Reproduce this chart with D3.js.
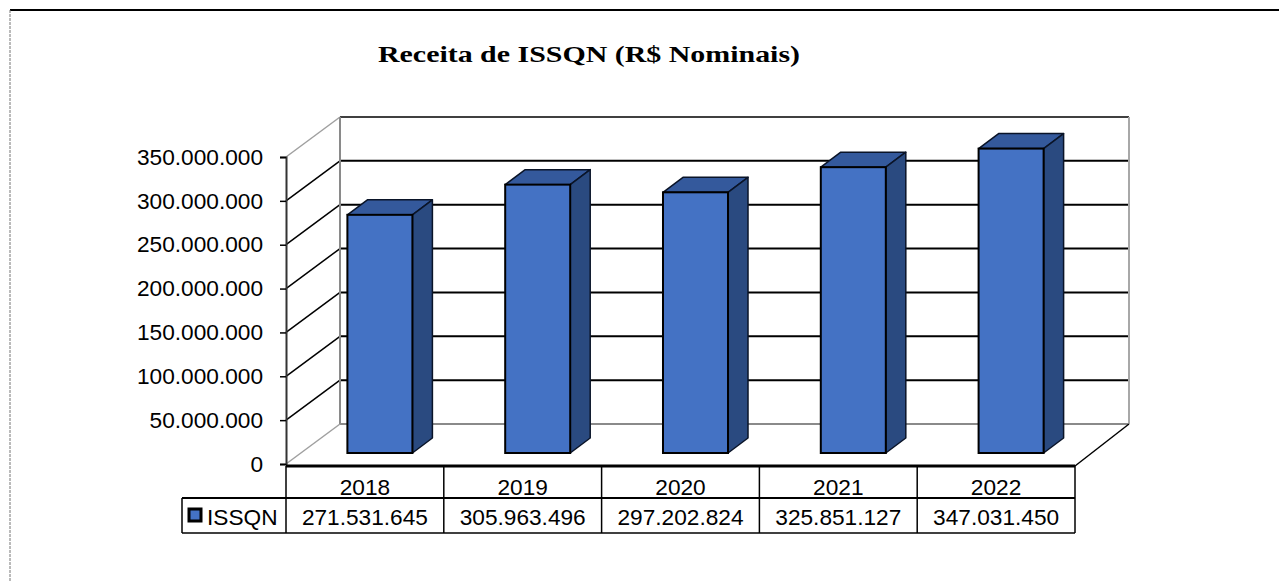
<!DOCTYPE html>
<html>
<head>
<meta charset="utf-8">
<script src="https://cdn.jsdelivr.net/npm/d3@7"></script>
<style>
  body { margin: 0; background: #fff; }
  svg { display: block; }
</style>
</head>
<body>
<div id="chart-area"></div>
<script>
const years = ["2018", "2019", "2020", "2021", "2022"];
const issqn = [271531645, 305963496, 297202824, 325851127, 347031450];
const yTicks = [0, 50000000, 100000000, 150000000, 200000000, 250000000, 300000000, 350000000];
const seriesName = "ISSQN";

const W = 1279, H = 581;
const STRETCH = 1.03;               // text in the source is a touch wider
const DX = 54, DY = -40;            // depth of the 3D box
const BAR_OFF = [15, -11], BAR_DEPTH = [20, -15];

const fmt = v => d3.format(",")(v).replace(/,/g, ".");

const svg = d3.select("#chart-area").append("svg")
  .attr("width", W)
  .attr("height", H);

// frame lines of the page
svg.append("line").attr("x1", 10).attr("x2", W).attr("y1", 10).attr("y2", 10)
  .attr("stroke", "#000").attr("stroke-width", 2);
svg.append("line").attr("x1", 10).attr("x2", 10).attr("y1", 10).attr("y2", H)
  .attr("stroke", "#777").attr("stroke-dasharray", "3,1");

// title
svg.append("text")
  .attr("x", 589).attr("y", 62)
  .attr("text-anchor", "middle")
  .attr("font-family", "'Liberation Serif', serif")
  .attr("font-weight", "bold")
  .attr("font-size", "24px")
  .attr("textLength", 422)
  .attr("lengthAdjust", "spacingAndGlyphs")
  .text("Receita de ISSQN (R$ Nominais)");

const x = d3.scaleBand()
  .domain(years)
  .range([286, 1075])
  .paddingInner(0.588)
  .paddingOuter(0.294);

const y = d3.scaleLinear()
  .domain([0, 350000000])
  .range([464, 157]);

const x0 = 286, x1 = 1075;

// back wall + side wall grid
const grid = svg.append("g");
yTicks.forEach(t => {
  const yy = y(t);
  const edge = (t === 0 || t === 350000000);
  grid.append("line")
    .attr("x1", x0 + DX).attr("x2", x1 + DX)
    .attr("y1", yy + DY).attr("y2", yy + DY)
    .attr("stroke", t === 0 ? "#8a8a8a" : (edge ? "#404040" : "#000"))
    .attr("stroke-width", 2);
  grid.append("line")
    .attr("x1", x0).attr("x2", x0 + DX)
    .attr("y1", yy).attr("y2", yy + DY)
    .attr("stroke", edge ? "#a0a0a0" : "#000")
    .attr("stroke-width", 1.5);
});
grid.append("line")
  .attr("x1", x0 + DX).attr("x2", x0 + DX)
  .attr("y1", y(350000000) + DY).attr("y2", y(0) + DY)
  .attr("stroke", "#8a8a8a").attr("stroke-width", 2);
grid.append("line")
  .attr("x1", x1 + DX).attr("x2", x1 + DX)
  .attr("y1", y(350000000) + DY).attr("y2", y(0) + DY)
  .attr("stroke", "#a8a8a8").attr("stroke-width", 2);
// floor side edge on the right
grid.append("line")
  .attr("x1", x1).attr("y1", y(0) + 2)
  .attr("x2", x1 + DX).attr("y2", y(0) + DY)
  .attr("stroke", "#000").attr("stroke-width", 1.5);

// front Y axis
const yAxisCall = d3.axisLeft(y)
  .tickValues(yTicks)
  .tickSize(6)
  .tickFormat(fmt);
const yAxis = svg.append("g")
  .attr("transform", `translate(${x0}, 0)`)
  .call(yAxisCall);
yAxis.select(".domain").attr("stroke", "#333").attr("stroke-width", 2);
yAxis.selectAll(".tick line").attr("stroke", "#000").attr("stroke-width", 1.5);
yAxis.selectAll(".tick text")
  .attr("x", -23)
  .attr("dy", "0.33em")
  .attr("font-family", "'Liberation Sans', Arial, sans-serif")
  .attr("font-size", "22px")
  .attr("fill", "#000");

// bars
const bars = svg.append("g").selectAll("g").data(issqn).enter().append("g");
const bx = (d, i) => x(years[i]) + BAR_OFF[0];
const bw = x.bandwidth();
const ytop = d => y(d) + BAR_OFF[1];
const ybot = y(0) + BAR_OFF[1];

bars.append("polygon")
  .attr("points", (d, i) => [
    [bx(d, i), ytop(d)], [bx(d, i) + bw, ytop(d)],
    [bx(d, i) + bw + BAR_DEPTH[0], ytop(d) + BAR_DEPTH[1]],
    [bx(d, i) + BAR_DEPTH[0], ytop(d) + BAR_DEPTH[1]]
  ].join(" "))
  .attr("fill", "#34599c").attr("stroke", "#0a1428").attr("stroke-width", 1.5)
  .attr("stroke-linejoin", "round");
bars.append("polygon")
  .attr("points", (d, i) => [
    [bx(d, i) + bw, ytop(d)],
    [bx(d, i) + bw + BAR_DEPTH[0], ytop(d) + BAR_DEPTH[1]],
    [bx(d, i) + bw + BAR_DEPTH[0], ybot + BAR_DEPTH[1]],
    [bx(d, i) + bw, ybot]
  ].join(" "))
  .attr("fill", "#2a4a80").attr("stroke", "#0a1428").attr("stroke-width", 1.5)
  .attr("stroke-linejoin", "round");
bars.append("rect")
  .attr("x", bx)
  .attr("y", ytop)
  .attr("width", bw)
  .attr("height", d => ybot - ytop(d))
  .attr("fill", "#4472c4")
  .attr("stroke", "#000")
  .attr("stroke-width", 2);

// data table
const tTop = 466, tMid = 498, tBot = 533, legL = 182;
const table = svg.append("g").attr("stroke", "#000");
table.append("line").attr("x1", x0).attr("x2", x1).attr("y1", tTop).attr("y2", tTop).attr("stroke-width", 3);
table.append("line").attr("x1", legL).attr("x2", x1).attr("y1", tMid).attr("y2", tMid).attr("stroke-width", 2);
table.append("line").attr("x1", legL).attr("x2", x1).attr("y1", tBot).attr("y2", tBot).attr("stroke-width", 1.5);
table.append("line").attr("x1", legL).attr("x2", legL).attr("y1", tMid).attr("y2", tBot).attr("stroke-width", 1.5);
const cols = [x0].concat(years.map(yr => x(yr) - x.step() * x.paddingInner() / 2 + x.step()));
cols.forEach(c => {
  table.append("line").attr("x1", c).attr("x2", c).attr("y1", tTop).attr("y2", tBot).attr("stroke-width", 1.5);
});

const cellX = yr => x(yr) + bw / 2;
svg.append("g").selectAll("text").data(years).enter().append("text")
  .attr("class", "tt")
  .attr("x", d => cellX(d))
  .attr("y", 495)
  .text(d => d);
svg.append("g").selectAll("text").data(issqn).enter().append("text")
  .attr("class", "tt")
  .attr("x", (d, i) => cellX(years[i]))
  .attr("y", 525)
  .text(d => fmt(d));
svg.selectAll(".tt")
  .attr("text-anchor", "middle")
  .attr("font-family", "'Liberation Sans', Arial, sans-serif")
  .attr("font-size", "22px")
  .attr("fill", "#000");

// legend key inside the table
svg.append("rect")
  .attr("x", 189).attr("y", 509).attr("width", 12).attr("height", 12)
  .attr("fill", "#4472c4").attr("stroke", "#000").attr("stroke-width", 3);
svg.append("text")
  .attr("class", "lg")
  .attr("x", 207).attr("y", 525)
  .attr("font-family", "'Liberation Sans', Arial, sans-serif")
  .attr("font-size", "22px")
  .text(seriesName);

// widen the sans texts slightly, like in the source picture
svg.selectAll(".tick text, .tt, .lg").each(function () {
  const len = this.getComputedTextLength();
  d3.select(this)
    .attr("textLength", len * STRETCH)
    .attr("lengthAdjust", "spacingAndGlyphs");
});
</script>
</body>
</html>
